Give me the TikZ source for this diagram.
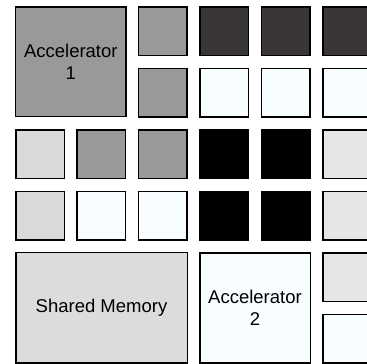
\documentclass[tikz,border=0pt]{standalone}
\usepackage{fontspec}
\setmainfont{Liberation Sans}
\definecolor{cgray}{HTML}{999999}
\definecolor{cdark}{HTML}{3A3536}
\definecolor{cwhite}{HTML}{F8FDFF}
\definecolor{clight}{HTML}{DADADA}
\definecolor{clighter}{HTML}{E6E6E6}
\definecolor{cmem}{HTML}{DCDCDC}
\begin{document}
\begin{tikzpicture}[x=1pt,y=-1pt,
  cell/.style={draw=black,line width=1.5pt,minimum width=48.5pt,minimum height=48.5pt,inner sep=0pt,anchor=center},
  big/.style={draw=black,line width=1.5pt,inner sep=0pt,anchor=center,align=center,
    font=\fontsize{18.5pt}{21.7pt}\selectfont}]
\useasboundingbox (0,0) rectangle (367,364);
\clip (0,0) rectangle (367,364);
% big blocks
\node[big,fill=cgray,minimum width=110.2pt,minimum height=109.8pt] (acc1) at (70.8,61.7) {Accelerator\\1};
\node[big,fill=cmem,minimum width=171.5pt,minimum height=110.2pt] (mem) at (101.5,307.8) {Shared Memory};
\node[big,fill=cwhite,minimum width=110.5pt,minimum height=110pt] (acc2) at (255,307.8) {Accelerator\\2};
% row 0
\node[cell,fill=cgray]  (r0c2) at (162.8,31) {};
\node[cell,fill=cdark]  (r0c3) at (224.2,31) {};
\node[cell,fill=cdark]  (r0c4) at (285.6,31) {};
\node[cell,fill=cdark]  (r0c5) at (347,31) {};
% row 1
\node[cell,fill=cgray]  (r1c2) at (162.8,92.5) {};
\node[cell,fill=cwhite] (r1c3) at (224.2,92.5) {};
\node[cell,fill=cwhite] (r1c4) at (285.6,92.5) {};
\node[cell,fill=cwhite] (r1c5) at (347,92.5) {};
% row 2
\node[cell,fill=clight] (r2c0) at (40,154) {};
\node[cell,fill=cgray]  (r2c1) at (101.4,154) {};
\node[cell,fill=cgray]  (r2c2) at (162.8,154) {};
\node[cell,fill=black]  (r2c3) at (224.2,154) {};
\node[cell,fill=black]  (r2c4) at (285.6,154) {};
\node[cell,fill=clighter] (r2c5) at (347,154) {};
% row 3
\node[cell,fill=clight] (r3c0) at (40,215.5) {};
\node[cell,fill=cwhite] (r3c1) at (101.4,215.5) {};
\node[cell,fill=cwhite] (r3c2) at (162.8,215.5) {};
\node[cell,fill=black]  (r3c3) at (224.2,215.5) {};
\node[cell,fill=black]  (r3c4) at (285.6,215.5) {};
\node[cell,fill=clighter] (r3c5) at (347,215.5) {};
% rows 4-5, right column
\node[cell,fill=clighter] (r4c5) at (347,277) {};
\node[cell,fill=cwhite] (r5c5) at (347,338.5) {};
\end{tikzpicture}
\end{document}
